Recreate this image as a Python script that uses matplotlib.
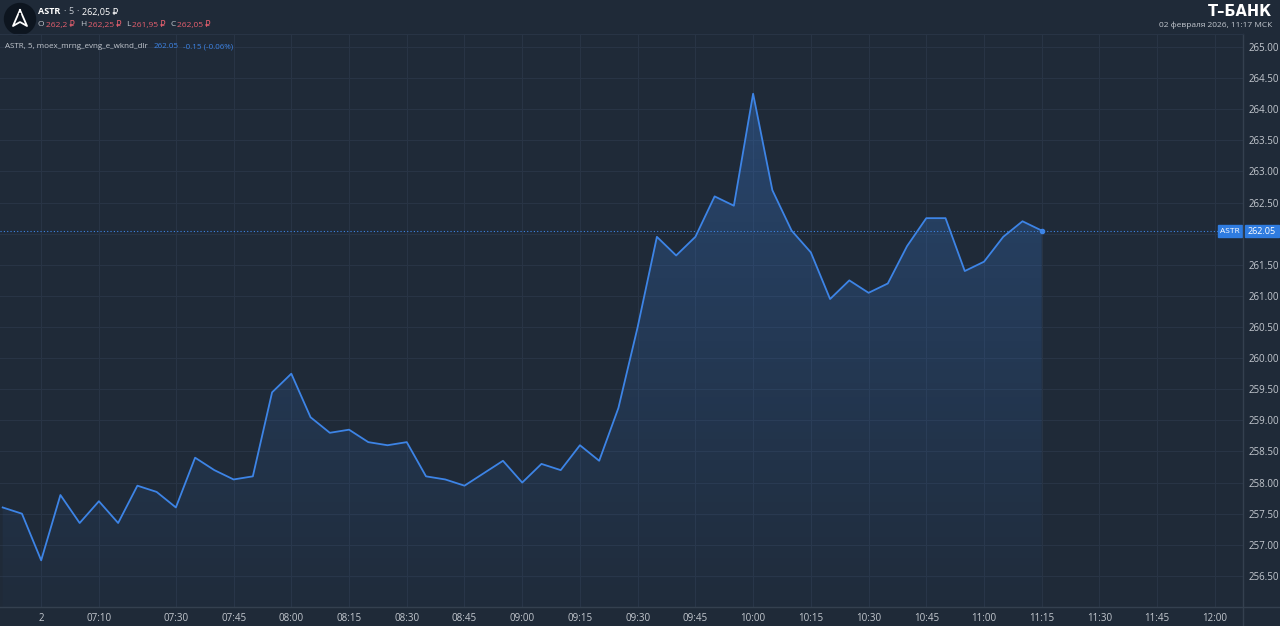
import matplotlib.pyplot as plt
import matplotlib.patches as mpatches
from matplotlib.lines import Line2D
from matplotlib.colors import LinearSegmentedColormap
import numpy as np

plt.rcParams['font.family'] = ['Open Sans', 'DejaVu Sans']

# 5-minute closes, ASTR, 02.02.2026
times = ['06:45', '06:50', '06:55', '07:00', '07:05', '07:10', '07:15', '07:20', '07:25', '07:30',
         '07:35', '07:40', '07:45', '07:50', '07:55', '08:00', '08:05', '08:10', '08:15', '08:20',
         '08:25', '08:30', '08:35', '08:40', '08:45', '08:50', '08:55', '09:00', '09:05', '09:10',
         '09:15', '09:20', '09:25', '09:30', '09:35', '09:40', '09:45', '09:50', '09:55', '10:00',
         '10:05', '10:10', '10:15', '10:20', '10:25', '10:30', '10:35', '10:40', '10:45', '10:50',
         '10:55', '11:00', '11:05', '11:10', '11:15']
prices = [257.60, 257.50, 256.75, 257.80, 257.35, 257.70, 257.35, 257.95, 257.85, 257.60,
          258.40, 258.20, 258.05, 258.10, 259.45, 259.75, 259.05, 258.80, 258.85, 258.65,
          258.60, 258.65, 258.10, 258.05, 257.95, 258.15, 258.35, 258.00, 258.30, 258.20,
          258.60, 258.35, 259.20, 260.50, 261.95, 261.65, 261.95, 262.60, 262.45, 264.25,
          262.70, 262.05, 261.70, 260.95, 261.25, 261.05, 261.20, 261.80, 262.25, 262.25,
          261.40, 261.55, 261.95, 262.20, 262.05]

tick_times = ['06:55', '07:10', '07:30', '07:45', '08:00', '08:15', '08:30', '08:45', '09:00', '09:15',
              '09:30', '09:45', '10:00', '10:15', '10:30', '10:45', '11:00', '11:15', '11:30', '11:45', '12:00']
tick_labels = ['2', '07:10', '07:30', '07:45', '08:00', '08:15', '08:30', '08:45', '09:00', '09:15',
               '09:30', '09:45', '10:00', '10:15', '10:30', '10:45', '11:00', '11:15', '11:30', '11:45', '12:00']
price_ticks = [256.5, 257.0, 257.5, 258.0, 258.5, 259.0, 259.5, 260.0, 260.5,
               261.0, 261.5, 262.0, 262.5, 263.0, 263.5, 264.0, 264.5, 265.0]
last_price = 262.05


def to_min(s):
    h, m = s.split(':')
    return int(h) * 60 + int(m)


x = np.array([to_min(t) for t in times])
y = np.array(prices)

BG = '#1f2a38'
GRID = '#283445'
SEP = '#34404f'
BLUE = '#3d84e6'
TXT = '#c3c8cf'
RED = '#e8606f'

W, H = 1280, 626
fig = plt.figure(figsize=(W / 100, H / 100), dpi=100, facecolor=BG)
renderer = fig.canvas.get_renderer()

# plot area in pixels
left, right, top, bottom = 0, 1243, 34, 607
ax = fig.add_axes([left / W, 1 - bottom / H, (right - left) / W, (bottom - top) / H])
ax.set_facecolor(BG)

ymin, ymax = 256.0, 265.21
xmin, xmax = 404.3, 727.3
ax.set_xlim(xmin, xmax)
ax.set_ylim(ymin, ymax)

ax.set_xticks([to_min(t) for t in tick_times])
ax.set_xticklabels(tick_labels)
ax.set_yticks(price_ticks)
# the 262.00 label is hidden behind the last-price box
ax.set_yticklabels(['' if p == 262.0 else '%.2f' % p for p in price_ticks])
ax.yaxis.tick_right()
ax.tick_params(axis='x', length=0, pad=4, labelsize=7, colors=TXT)
ax.tick_params(axis='y', length=0, pad=4, labelsize=7, colors=TXT)
ax.grid(True, color=GRID, lw=0.8)
ax.set_axisbelow(True)
for s in ax.spines.values():
    s.set_visible(False)

# gradient fill under the line
poly = ax.fill_between(x, y, ymin, color='none', lw=0)
cmap = LinearSegmentedColormap.from_list('g', [(0.24, 0.52, 0.9, 0.02), (0.24, 0.52, 0.9, 0.34)])
grad = np.linspace(0, 1, 256).reshape(-1, 1)
im = ax.imshow(grad, extent=[xmin, xmax, ymin, ymax], origin='lower', aspect='auto',
               cmap=cmap, zorder=1)
im.set_clip_path(poly.get_paths()[0], transform=ax.transData)

ax.plot(x, y, color=BLUE, lw=1.3, zorder=3)
ax.axhline(last_price, color=BLUE, lw=0.8, ls=(0, (1, 2)), zorder=2)
ax.plot(x[-1], y[-1], 'o', color=BLUE, ms=3, zorder=4)


def fx(px):
    return px / W


def fy(py):
    return 1 - py / H


def place(items, x0, ypx, size):
    # write text pieces one after another on one line
    xp = x0
    for s, c, w, gap in items:
        t = fig.text(fx(xp), fy(ypx), s, color=c, fontsize=size, fontweight=w, va='center')
        xp += t.get_window_extent(renderer).width + gap


# separators
fig.add_artist(Line2D([0, 1], [fy(bottom), fy(bottom)], color=SEP, lw=1))
fig.add_artist(Line2D([fx(right), fx(right)], [0, fy(top)], color=SEP, lw=1))
fig.add_artist(Line2D([0, fx(right)], [fy(top), fy(top)], color=GRID, lw=0.8))

# last price labels
fig.add_artist(mpatches.Rectangle((fx(1218), fy(237)), 24 / W, 12 / H, color='#2f7ce0',
                                  transform=fig.transFigure))
fig.add_artist(mpatches.Rectangle((fx(1245), fy(237)), 34 / W, 12 / H, color='#2f7ce0',
                                  transform=fig.transFigure))
fig.text(fx(1230), fy(231.5), 'ASTR', color='white', fontsize=6, ha='center', va='center')
fig.text(fx(1262), fy(231.5), '%.2f' % last_price, color='white', fontsize=6.5, ha='center', va='center')

# header: logo
fig.add_artist(mpatches.Ellipse((fx(20), fy(19)), 31 / W, 31 / H, color='#0d151f',
                                transform=fig.transFigure))
lx = [fx(20), fx(13), fx(20), fx(27), fx(20)]
ly = [fy(10), fy(26), fy(22), fy(26), fy(10)]
fig.add_artist(Line2D(lx, ly, color='white', lw=1.3))
fig.add_artist(Line2D([fx(20), fx(20)], [fy(14), fy(20)], color='#0d151f', lw=1.6))

# header: ticker line
place([('ASTR', 'white', 'bold', 3), ('·', '#9aa1aa', 'bold', 3), ('5', TXT, 'normal', 3),
       ('·', '#9aa1aa', 'bold', 3), ('262,05 ₽', 'white', 'normal', 0)], 38, 12, 6.5)
place([('O', TXT, 'normal', 1.5), ('262,2 ₽', RED, 'normal', 5),
       ('H', TXT, 'normal', 1.5), ('262,25 ₽', RED, 'normal', 5),
       ('L', TXT, 'normal', 1.5), ('261,95 ₽', RED, 'normal', 5),
       ('C', TXT, 'normal', 1.5), ('262,05 ₽', RED, 'normal', 0)], 38, 25, 6)

# legend line
place([('ASTR, 5, moex_mrng_evng_e_wknd_dlr', TXT, 'normal', 6),
       ('262.05', BLUE, 'normal', 4), ('-0.15 (-0.06%)', BLUE, 'normal', 0)], 5, 47, 5.8)

# header right
fig.text(fx(1272), fy(11), 'Т–БАНК', color='white', fontsize=10.5, fontweight='heavy',
         family='DejaVu Sans', ha='right', va='center')
fig.text(fx(1272), fy(25), '02 февраля 2026, 11:17 МСК', color=TXT, fontsize=6, ha='right', va='center')

fig.savefig('out.png', dpi=100, facecolor=BG)
